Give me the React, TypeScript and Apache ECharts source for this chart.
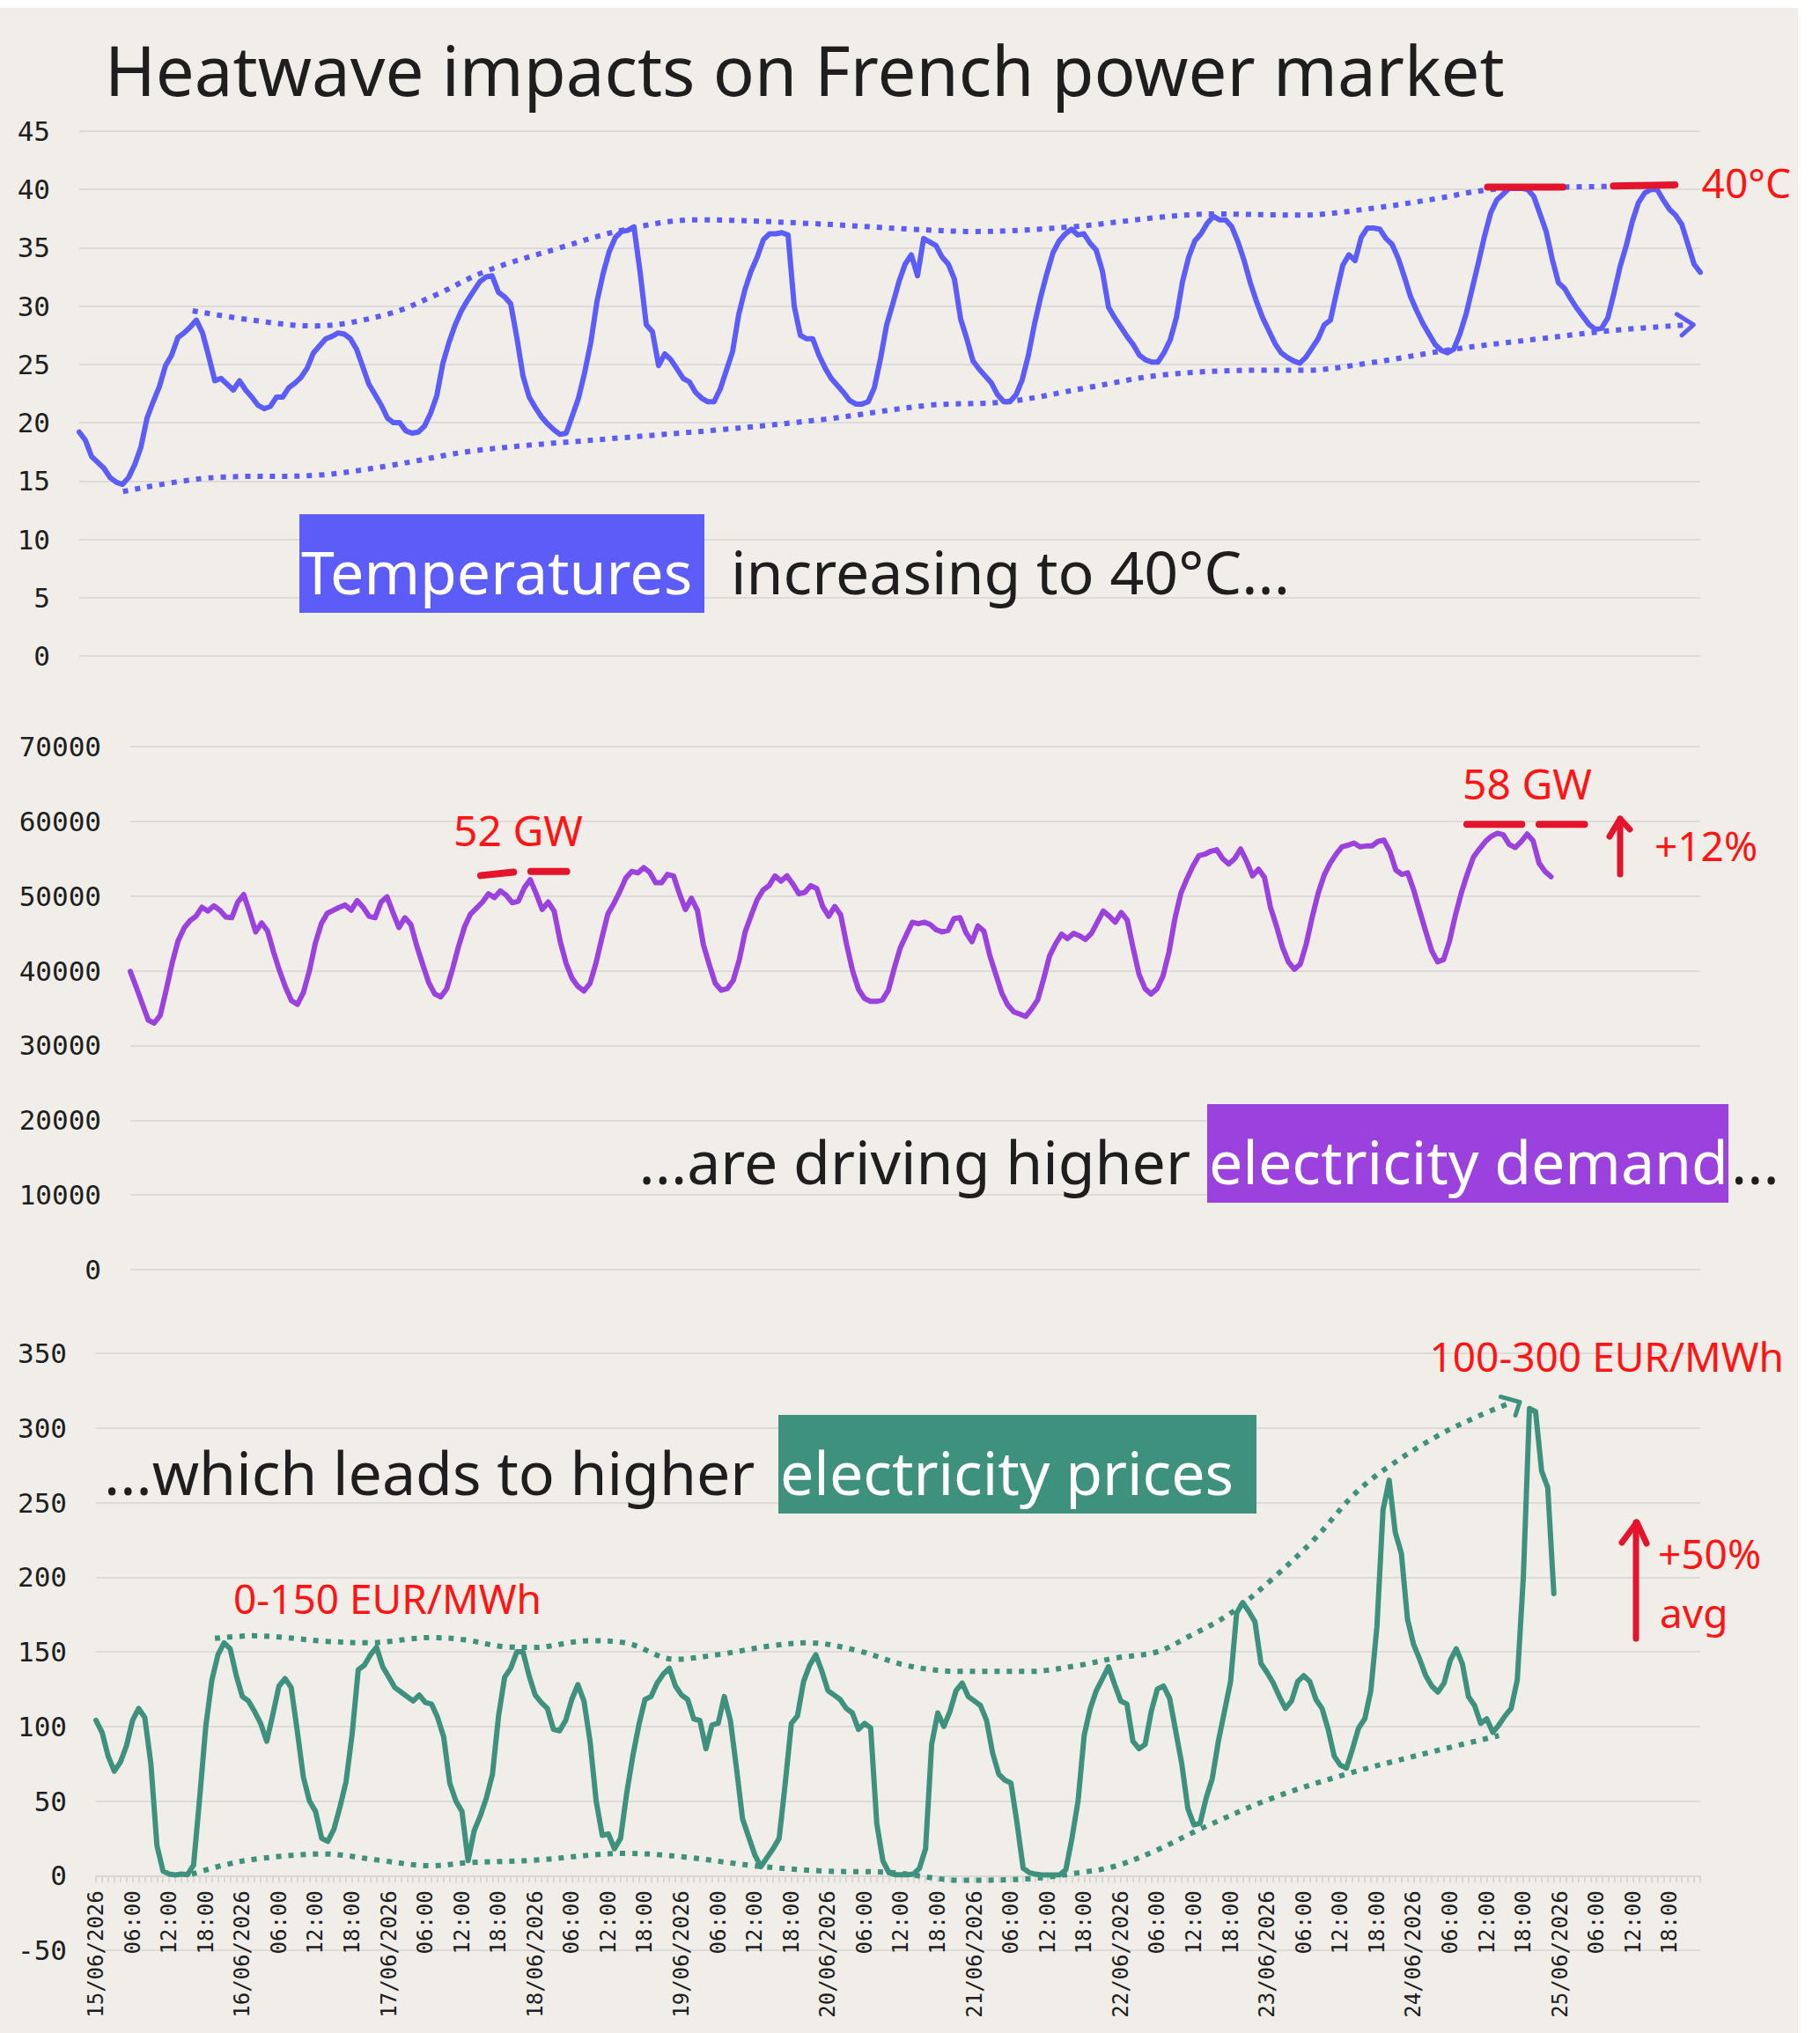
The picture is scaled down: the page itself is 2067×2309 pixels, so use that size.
import React, { useEffect, useRef } from "react";
import * as echarts from "echarts";

// ---------- tick labels ----------
const dayLabels = [
  "15/06/2026", "16/06/2026", "17/06/2026", "18/06/2026", "19/06/2026", "20/06/2026",
  "21/06/2026", "22/06/2026", "23/06/2026", "24/06/2026", "25/06/2026",
];
const hourLabels = ["06:00", "12:00", "18:00"];

// ---------- hourly temperature (°C), from 15/06 00:00 ----------
const temperature = [
  19.2, 18.5, 17.1, 16.6, 16.1, 15.3, 14.9, 14.7, 15.3, 16.4,
  17.9, 20.4, 21.8, 23.1, 24.9, 25.8, 27.3, 27.7, 28.2, 28.8,
  27.7, 25.7, 23.6, 23.8, 23.3, 22.8, 23.6, 22.8, 22.2, 21.5,
  21.2, 21.4, 22.2, 22.2, 23.0, 23.4, 23.9, 24.7, 26.0, 26.6,
  27.2, 27.4, 27.7, 27.6, 27.2, 26.3, 24.8, 23.3, 22.4, 21.5,
  20.4, 20.0, 20.0, 19.3, 19.1, 19.2, 19.7, 20.8, 22.3, 25.1,
  26.9, 28.4, 29.6, 30.5, 31.3, 32.1, 32.5, 32.6, 31.2, 30.8,
  30.2, 27.3, 24.0, 22.2, 21.3, 20.5, 19.9, 19.4, 19.0, 19.1,
  20.6, 22.1, 24.3, 26.9, 30.4, 32.8, 34.7, 35.9, 36.4, 36.5,
  36.8, 32.9, 28.4, 27.8, 24.9, 25.9, 25.4, 24.6, 23.8, 23.5,
  22.6, 22.1, 21.8, 21.8, 22.9, 24.5, 26.1, 29.3, 31.4, 33.0,
  34.2, 35.7, 36.2, 36.2, 36.3, 36.1, 30.0, 27.5, 27.2, 27.2,
  25.8, 24.7, 23.8, 23.2, 22.6, 21.9, 21.6, 21.6, 21.8, 23.0,
  25.5, 28.4, 30.2, 32.1, 33.6, 34.4, 32.6, 35.8, 35.5, 35.2,
  34.2, 33.6, 32.3, 28.9, 27.2, 25.3, 24.6, 24.0, 23.4, 22.4,
  21.8, 21.8, 22.4, 23.7, 25.8, 28.5, 30.8, 32.8, 34.6, 35.6,
  36.2, 36.6, 36.1, 36.2, 35.4, 34.8, 33.0, 29.9, 29.0, 28.2,
  27.4, 26.7, 25.8, 25.4, 25.2, 25.2, 26.0, 27.1, 29.0, 32.1,
  34.2, 35.6, 36.2, 37.1, 37.7, 37.4, 37.4, 36.8, 35.5, 33.9,
  32.0, 30.4, 29.0, 27.9, 26.8, 26.0, 25.6, 25.3, 25.1, 25.6,
  26.4, 27.2, 28.4, 28.8, 31.2, 33.5, 34.4, 33.9, 35.9, 36.7,
  36.7, 36.6, 35.8, 35.3, 34.1, 32.5, 30.8, 29.6, 28.5, 27.6,
  26.7, 26.2, 26.0, 26.3, 27.6, 29.3, 31.5, 33.7, 36.0, 38.0,
  39.1, 39.6, 40.1, 40.1, 40.1, 40.0, 39.4, 37.9, 36.4, 34.0,
  32.0, 31.5, 30.6, 29.8, 29.1, 28.4, 28.0, 28.1, 29.0, 31.1,
  33.4, 35.2, 37.3, 38.9, 39.7, 40.0, 40.0, 39.1, 38.3, 37.8,
  37.0, 35.3, 33.6, 32.9,
];

// ---------- hourly electricity demand (MW) ----------
const demand = [
  39900, 37800, 35600, 33400, 33000, 34000, 37400, 41000, 44000, 45700,
  46700, 47300, 48500, 48000, 48700, 48100, 47200, 47100, 49200, 50200,
  47800, 45200, 46400, 45300, 42500, 40000, 37800, 36000, 35500, 37100,
  40000, 43700, 46300, 47700, 48100, 48500, 48800, 48100, 49400, 48500,
  47300, 47100, 49200, 49900, 47800, 45800, 47100, 46200, 43300, 40800,
  38400, 36900, 36500, 37600, 40300, 43300, 45900, 47600, 48400, 49200,
  50300, 49800, 50700, 50100, 49100, 49300, 51100, 52200, 50300, 48200,
  49200, 48000, 44000, 41000, 39000, 37900, 37300, 38300, 41000, 44400,
  47600, 49000, 50600, 52400, 53300, 53100, 53800, 53200, 51800, 51800,
  52900, 52700, 50300, 48200, 49700, 48100, 43500, 40800, 38300, 37400,
  37600, 38700, 41400, 45200, 47400, 49500, 50800, 51400, 52700, 52000,
  52700, 51600, 50300, 50500, 51400, 51000, 48600, 47300, 48600, 47500,
  43500, 40000, 37500, 36300, 35900, 35900, 36100, 37400, 40400, 43100,
  44800, 46500, 46300, 46500, 46200, 45500, 45200, 45400, 47000, 47100,
  45100, 43900, 46000, 45300, 42000, 39500, 37000, 35400, 34500, 34200,
  33900, 34900, 36100, 38900, 42000, 43600, 44900, 44300, 45000, 44700,
  44200, 45000, 46500, 48000, 47300, 46500, 47800, 46800, 43000, 39500,
  37600, 36900, 37600, 39300, 42500, 47000, 50400, 52300, 54000, 55400,
  55600, 56000, 56200, 55000, 54300, 55000, 56300, 54700, 52700, 53600,
  52500, 48500, 46000, 43200, 41200, 40200, 40900, 43600, 47200, 50400,
  52800, 54400, 55600, 56600, 56800, 57100, 56600, 56700, 56700, 57300,
  57500, 56000, 53500, 52900, 53100, 50800, 48000, 45300, 42700, 41200,
  41500, 44000, 47500, 50500, 53000, 55200, 56300, 57300, 58000, 58400,
  58200, 56900, 56500, 57300, 58300, 57400, 54400, 53300, 52600,
];

// ---------- hourly day-ahead price (EUR/MWh) ----------
const price = [
  104, 96, 80, 70, 76, 87, 104, 112, 106, 75,
  20, 3, 1, 0.5, 1, 0.6, 7, 52, 100, 131,
  148, 156, 152, 134, 120, 117, 110, 102, 90, 108,
  127, 132, 126, 97, 66, 50, 43, 25, 23, 31,
  46, 63, 95, 138, 141, 148, 153, 140, 133, 126,
  123, 120, 117, 121, 116, 115, 106, 93, 62, 50,
  43, 10, 30, 40, 52, 68, 107, 133, 139, 150,
  150, 134, 121, 116, 112, 98, 97, 104, 118, 128,
  117, 90, 50, 27, 28, 18, 25, 55, 80, 101,
  118, 120, 129, 135, 139, 127, 121, 118, 105, 104,
  85, 101, 102, 120, 104, 72, 38, 26, 14, 6,
  12, 18, 25, 62, 102, 107, 130, 141, 148, 137,
  124, 121, 118, 112, 109, 98, 102, 99, 35, 10,
  2, 0.6, 0.6, 0.6, 1, 5, 18, 88, 109, 100,
  110, 124, 129, 120, 117, 114, 104, 82, 68, 64,
  62, 35, 5, 2, 1, 0.4, 0.4, 0.4, 0.6, 4,
  25, 50, 94, 112, 124, 132, 140, 128, 117, 115,
  90, 85, 88, 110, 125, 127, 119, 97, 75, 45,
  34, 35, 52, 65, 90, 110, 130, 176, 183, 177,
  170, 142, 136, 129, 120, 112, 117, 130, 134, 130,
  118, 112, 98, 80, 74, 72, 85, 99, 105, 124,
  167, 245, 265, 230, 216, 172, 155, 145, 134, 127,
  123, 129, 144, 152, 142, 120, 114, 102, 105, 96,
  101, 107, 112, 131, 200, 313, 311, 271, 260, 189,
];

// ---------- hand-drawn annotations, in data space [hour, value] ----------
const tempUpperTrend = [
  [18.4, 29.6], [28, 28.8], [38, 28.3], [50, 29.3], [58, 31], [66, 33], [78, 35],
  [88, 36.5], [100, 37.4], [118, 37.1], [135, 36.6], [145, 36.4], [161, 36.8],
  [175, 37.6], [184, 37.9], [198, 37.8], [210, 38.4], [220, 39.2], [229, 40.0],
  [240, 40.2], [256, 40.3],
];
const tempLowerTrend = [
  [7.1, 14.1], [21.8, 15.3], [38.7, 15.5], [50.1, 16.3], [64.2, 17.6], [87.8, 18.7],
  [104, 19.4], [121, 20.3], [138, 21.5], [150.5, 21.8], [163.5, 23.0], [175.8, 24.1],
  [192, 24.5], [199, 24.5], [209, 25.1], [223, 26.3], [237, 27.2], [248.6, 27.9],
  [261, 28.4],
];
const tempArrowHead = [[259.2, 29.3], [261.9, 28.4], [260.0, 27.5]];
const tempPeakMarks = [
  [[228.5, 40.2], [240.7, 40.2]],
  [[248.9, 40.3], [258.9, 40.4]],
];
const demandPeakMarks = [
  [[58.7, 52750], [64.2, 53200]],
  [[67.1, 53300], [73.1, 53300]],
  [[223.9, 59600], [233.1, 59600]],
  [[236.0, 59600], [243.6, 59600]],
];
const priceUpperTrend = [
  [19.5, 159], [25.6, 160.7], [37.9, 157], [44.7, 156], [54.9, 159.5], [60.5, 158],
  [67.2, 153.3], [71.8, 152.9], [80.8, 157.4], [86.8, 156], [94.9, 145], [102.3, 148.3],
  [110.7, 154], [116.9, 156], [124.8, 150.8], [133.2, 140.5], [141.7, 136.8], [153, 136.8],
  [161.4, 141.1], [167, 145.7], [174, 150], [179, 159.9], [185.9, 175.5], [192.7, 198.3],
  [199.6, 224.8], [206.4, 256], [211.9, 274], [220.1, 295], [226.9, 308.4], [231.4, 316],
];
const priceLowerTrend = [
  [15.7, 1], [21.1, 7.2], [26.7, 11.4], [37.4, 14.5], [46.4, 10.3], [54.9, 6.6],
  [61.1, 8.7], [71.7, 10.3], [86.8, 14.9], [96.6, 12.4], [107.9, 6.6], [119.2, 3.1],
  [130.4, 2.1], [141.7, -3.1], [153, -2.1], [161.4, 2.1], [167, 6.2], [173.6, 16.5],
  [181.1, 31.3], [192.7, 51.7], [205, 68], [216.6, 80.5], [230, 93.8],
];
const priceArrowHead = [[230.3, 320.9], [233.4, 317.3], [232.7, 308.4]];

// ---------- styling ----------
const BG = "#f1eee9";
const GRID = "#dddbd7";
const AXIS = "#d9d7d3";
const INK = "#1e1e1e";
const BLUE = "#5c5cf8";
const PURPLE = "#9b41de";
const GREEN = "#3d917d";
const RED_MARK = "#e3142b";
const RED_TEXT = "#ff1414";
const MONO = '"DejaVu Sans Mono", monospace';
const HAND = '"Noto Sans", sans-serif';

// price grid geometry (pixels) — used to put the date axis on the zero line
const PRICE_TOP = 1528;
const PRICE_HEIGHT = 678;
const PRICE_MIN = -50;
const PRICE_MAX = 350;

const toPairs = (arr: number[]) => arr.map((v, i) => [i, v]);

function dotted(data: number[][], color: string, xi: number) {
  return {
    type: "line",
    xAxisIndex: xi,
    yAxisIndex: xi,
    data,
    smooth: 0.35,
    showSymbol: false,
    silent: true,
    z: 4,
    lineStyle: { color, width: 6, type: [6, 8], cap: "butt" },
  };
}
function solid(data: number[][], color: string, xi: number, width = 6, z = 3) {
  return {
    type: "line",
    xAxisIndex: xi,
    yAxisIndex: xi,
    data,
    showSymbol: false,
    silent: true,
    z,
    lineStyle: { color, width, cap: "round", join: "round" },
  };
}

function yAxis(gridIndex: number, min: number, max: number, interval: number) {
  return {
    gridIndex,
    type: "value",
    min,
    max,
    interval,
    axisLine: { show: false },
    axisTick: { show: false },
    splitLine: { show: true, lineStyle: { color: GRID, width: 2 } },
    axisLabel: {
      margin: 33,
      fontSize: 31,
      fontFamily: MONO,
      color: INK,
      formatter: (v: number) => String(v),
    },
  };
}

function txt(text: string, x: number, y: number, size: number, fill: string, align = "left") {
  return {
    type: "text",
    x,
    y,
    z: 20,
    silent: true,
    style: {
      text,
      fill,
      font: `normal ${size}px ${HAND}`,
      align,
      verticalAlign: "middle",
    },
  };
}
function box(x: number, y: number, w: number, h: number, fill: string) {
  return { type: "rect", z: 15, silent: true, shape: { x, y, width: w, height: h }, style: { fill } };
}
function pline(points: number[][]) {
  return {
    type: "polyline",
    z: 20,
    silent: true,
    shape: { points },
    style: { stroke: RED_MARK, lineWidth: 7, fill: "none", lineCap: "round", lineJoin: "round" },
  };
}

export default function App() {
  const ref = useRef<HTMLDivElement>(null);
  useEffect(() => {
    if (!ref.current) return;
    const chart = echarts.init(ref.current, null, { renderer: "svg" });
    const xLabel = (v: number) => {
      if (v % 24 === 0) return dayLabels[v / 24] ?? "";
      if (v % 6 === 0) return hourLabels[(v % 24) / 6 - 1];
      return "";
    };
    // distance from the grid bottom (-50) up to the zero line
    const zeroOffset = -((0 - PRICE_MIN) / (PRICE_MAX - PRICE_MIN)) * PRICE_HEIGHT;
    const gridBase = { containLabel: false, outerBoundsMode: "none" };
    const option: any = {
      animation: false,
      backgroundColor: BG,
      grid: [
        { ...gridBase, left: 90, right: 111, top: 140, height: 596 },
        { ...gridBase, left: 148, right: 111, top: 839, height: 594 },
        { ...gridBase, left: 109, right: 111, top: PRICE_TOP, height: PRICE_HEIGHT },
      ],
      xAxis: [
        { gridIndex: 0, type: "value", min: 0, max: 263, show: false },
        { gridIndex: 1, type: "value", min: 0, max: 263, show: false },
        {
          gridIndex: 2,
          type: "value",
          position: "bottom",
          offset: zeroOffset,
          min: 0,
          max: 263,
          interval: 6,
          axisLine: { show: true, onZero: false, lineStyle: { color: AXIS, width: 2 } },
          axisTick: { show: true, length: 8, lineStyle: { color: AXIS, width: 2 } },
          minorTick: { show: true, splitNumber: 6, length: 8, lineStyle: { color: AXIS, width: 2 } },
          splitLine: { show: false },
          axisLabel: {
            rotate: 90,
            margin: 17,
            fontSize: 24,
            fontFamily: MONO,
            color: INK,
            formatter: xLabel,
            showMaxLabel: false,
          },
        },
      ],
      yAxis: [
        yAxis(0, 0, 45, 5),
        yAxis(1, 0, 70000, 10000),
        yAxis(2, PRICE_MIN, PRICE_MAX, 50),
      ],
      series: [
        solid(toPairs(temperature), BLUE, 0),
        dotted(tempUpperTrend, BLUE, 0),
        dotted(tempLowerTrend, BLUE, 0),
        solid(tempArrowHead, BLUE, 0, 5, 4),
        ...tempPeakMarks.map((d) => solid(d, RED_MARK, 0, 8, 6)),
        solid(toPairs(demand), PURPLE, 1),
        ...demandPeakMarks.map((d) => solid(d, RED_MARK, 1, 8, 6)),
        solid(toPairs(price), GREEN, 2),
        dotted(priceUpperTrend, GREEN, 2),
        dotted(priceLowerTrend, GREEN, 2),
        solid(priceArrowHead, GREEN, 2, 5, 4),
      ],
      graphic: [
        txt("Heatwave impacts on French power market", 119, 70, 78, INK),
        // temperature caption
        box(340, 575, 460, 112, BLUE),
        txt("Temperatures", 342, 639, 68, "#ffffff"),
        txt("increasing to 40°C...", 830, 639, 68, INK),
        txt("40°C", 2034, 198, 46, RED_TEXT, "right"),
        // demand caption
        txt("...are driving higher", 1352, 1309, 68, INK, "right"),
        box(1371, 1245, 592, 112, PURPLE),
        txt("electricity demand", 1373, 1309, 68, "#ffffff"),
        txt("...", 1966, 1309, 68, INK),
        txt("52 GW", 515, 933, 48, RED_TEXT),
        txt("58 GW", 1661, 880, 48, RED_TEXT),
        txt("+12%", 1879, 951, 46, RED_TEXT),
        pline([[1840, 984], [1840, 921]]),
        pline([[1828, 941], [1840, 921], [1851, 933]]),
        // price caption
        txt("...which leads to higher", 118, 1662, 68, INK),
        box(884, 1598, 543, 112, GREEN),
        txt("electricity prices", 886, 1662, 68, "#ffffff"),
        txt("0-150 EUR/MWh", 265, 1806, 46, RED_TEXT),
        txt("100-300 EUR/MWh", 2026, 1531, 46, RED_TEXT, "right"),
        txt("+50%", 1883, 1755, 46, RED_TEXT),
        txt("avg", 1885, 1822, 46, RED_TEXT),
        pline([[1858, 1852], [1858, 1720]]),
        pline([[1842, 1743], [1859, 1720], [1870, 1744]]),
      ],
    };
    chart.setOption(option);
    return () => chart.dispose();
  }, []);
  return (
    <div
      ref={ref}
      style={{ position: "absolute", left: 0, top: 9, width: 2042, height: 2300 }}
    />
  );
}
